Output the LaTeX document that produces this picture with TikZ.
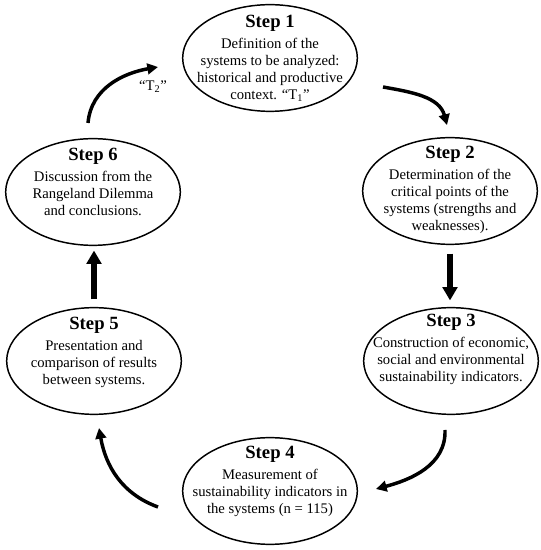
\documentclass[tikz,border=0pt]{standalone}
\usepackage{fontspec}
\setmainfont{Liberation Serif}
\usepackage{tikz}
\usetikzlibrary{shapes.geometric, arrows.meta, positioning}
\newcommand{\stepfont}{\fontsize{14}{16}\selectfont\bfseries}

\begin{document}
\begin{tikzpicture}[
  x=0.75pt, y=0.75pt,
  oval/.style={draw, ellipse, line width=1.1pt, minimum width=131pt, minimum height=80pt, inner sep=0pt},
  steptext/.style={align=center, inner sep=0pt, font=\fontsize{11}{12.75}\selectfont},
  curvearrow/.style={line width=2.6pt, -{Triangle[length=8pt, width=8pt]}},
  bigarrow/.style={line width=4pt, -{Triangle[length=10pt, width=11pt]}},
]
  \useasboundingbox (0,0) rectangle (541,550);

  % Ellipses
  \node[oval] (s1) at (270,492) {};
  \node[oval] (s2) at (450,359) {};
  \node[oval] (s3) at (451,189) {};
  \node[oval] (s4) at (270,59) {};
  \node[oval] (s5) at (94,189) {};
  \node[oval] (s6) at (93,358) {};

  % Texts
  \node[steptext, below=8pt of s1.north] (t1) {{\stepfont Step 1}\\[3pt]Definition of the\\systems to be analyzed:\\historical and productive\\context. “T\textsubscript{1}”};
  \node[steptext, below=6.5pt of s2.north] (t2) {{\stepfont Step 2}\\[3pt]Determination of the\\critical points of the\\systems (strengths and\\weaknesses).};
  \node[steptext, below=5.5pt of s3.north] (t3) {{\stepfont Step 3}\\[3pt]Construction of economic,\\social and environmental\\sustainability indicators.};
  \node[steptext, below=7pt of s4.north] (t4) {{\stepfont Step 4}\\[3pt]Measurement of\\sustainability indicators in\\the systems (n = 115)};
  \node[steptext, below=7.5pt of s5.north] (t5) {{\stepfont Step 5}\\[3pt]Presentation and\\comparison of results\\between systems.};
  \node[steptext, below=7.5pt of s6.north] (t6) {{\stepfont Step 6}\\[3pt]Discussion from the\\Rangeland Dilemma\\and conclusions.};

  % Arrow ends
  \coordinate (a1s) at (383,463);
  \coordinate (a1e) at (447,425);
  \coordinate (a3s) at (445,120);
  \coordinate (a3e) at (376,61);
  \coordinate (a4s) at (158,43);
  \coordinate (a4e) at (99,122);
  \coordinate (a6s) at (88,427);
  \coordinate (a6e) at (158,483);

  % Arrows
  \draw[curvearrow] (a1s) to[out=-10, in=105] (a1e);
  \draw[bigarrow, shorten <=6.4pt, shorten >=4.9pt] (s2) -- (s2 |- s3.north);
  \draw[curvearrow] (a3s) to[out=-88, in=15] (a3e);
  \draw[curvearrow] (a4s) to[out=160, in=-80] (a4e);
  \draw[bigarrow, shorten <=5.6pt, shorten >=3.4pt] (s5) -- (s5 |- s6.south);
  \draw[curvearrow] (a6s) to[out=85, in=190] (a6e);

  % Label
  \node[steptext] (lab) at (153,463) {“T\textsubscript{2}”};

\end{tikzpicture}
\end{document}
